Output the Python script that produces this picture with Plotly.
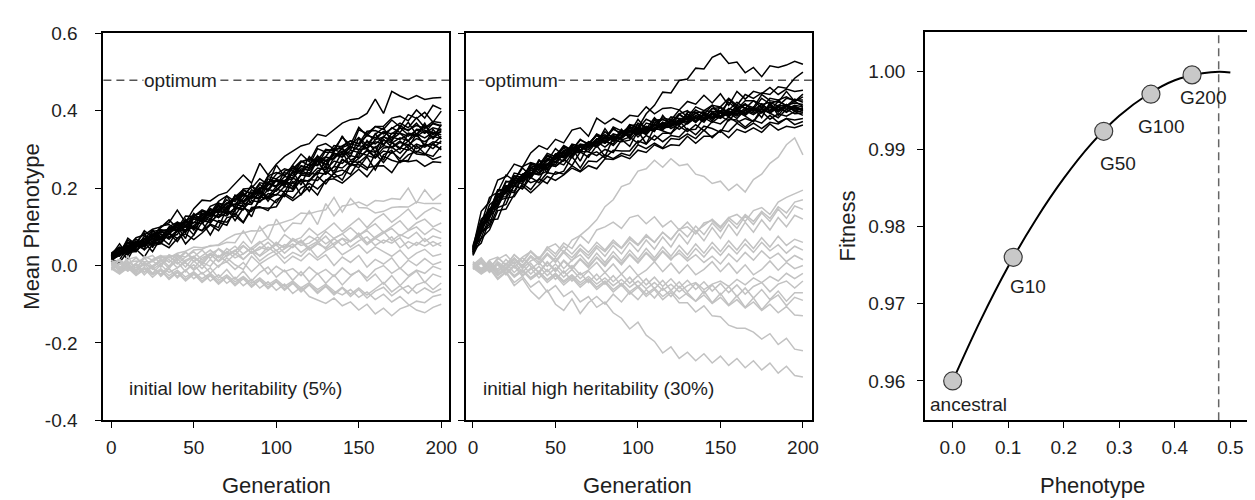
import plotly.graph_objects as go

# ---------------- data ----------------
GENERATIONS = list(range(0, 201, 5))

# Mean phenotype trajectories (values in thousandths)
LOW_SELECTED = [
    [30,44,49,72,79,94,100,111,143,111,147,169,167,182,189,211,234,213,264,234,262,282,295,309,315,339,334,350,368,377,380,393,430,393,450,438,429,439,429,433,434],
    [18,28,71,54,90,72,98,118,96,128,127,144,135,166,180,165,198,200,224,209,260,230,260,288,268,308,315,301,331,312,357,335,359,360,381,386,374,402,381,414,404],
    [28,44,42,44,76,72,102,106,90,114,131,120,153,162,148,181,180,204,194,232,240,234,250,270,258,302,293,293,335,298,351,341,359,352,376,358,390,380,396,370,399],
    [12,30,60,56,52,90,68,92,108,90,131,134,127,146,170,152,194,186,192,230,224,240,232,268,276,270,281,310,307,322,315,347,349,340,354,368,356,382,356,372,369],
    [24,46,38,62,62,80,66,100,112,84,125,116,147,138,180,146,174,208,176,224,218,212,258,240,282,260,297,300,291,310,331,311,339,356,320,362,348,368,342,368,361],
    [20,28,58,48,70,62,90,94,90,120,97,134,133,156,138,180,184,172,198,212,202,244,252,240,262,282,271,276,305,314,309,339,325,332,356,344,370,338,368,327,365],
    [32,48,44,68,54,82,88,80,106,104,95,140,135,144,134,182,166,180,210,192,220,220,224,258,252,282,251,300,303,282,329,301,325,346,330,356,338,336,362,338,354],
    [15,26,60,36,68,92,72,96,90,100,135,116,137,124,154,158,162,196,184,216,220,204,242,246,234,284,259,290,281,308,299,303,341,310,342,342,322,352,350,328,349],
    [26,56,26,60,84,46,92,86,110,90,125,126,115,158,136,180,162,180,174,208,220,208,244,208,254,270,239,280,303,272,283,323,293,334,318,300,342,338,310,352,327],
    [10,14,52,60,52,72,60,86,100,70,125,114,137,124,138,140,188,160,192,178,204,218,204,234,234,272,237,256,293,256,299,303,279,326,306,322,304,340,310,314,334],
    [22,46,34,36,60,58,82,68,88,102,79,130,121,146,132,148,144,184,190,174,196,216,196,238,240,234,273,236,273,260,291,285,307,272,318,304,322,302,314,302,322],
    [30,34,66,52,42,88,92,74,80,118,91,122,109,136,144,130,160,158,196,166,198,190,226,216,220,244,255,244,275,260,277,297,279,304,306,290,312,292,312,312,301],
    [8,40,16,56,60,52,56,84,70,90,99,90,121,112,104,146,154,126,178,172,184,178,218,182,222,220,243,228,235,262,253,281,247,286,298,268,272,310,289,282,308],
    [18,28,44,62,40,60,60,82,62,92,101,90,107,98,148,116,148,140,168,176,162,192,192,222,192,230,211,240,247,236,269,253,257,282,272,266,286,295,288,274,282],
    [26,34,28,52,60,36,72,54,92,56,79,112,79,116,112,136,112,150,152,142,170,182,168,184,204,182,221,224,213,230,249,229,257,258,240,272,268,272,256,268,266],
    [5,8,36,42,22,56,58,46,70,82,67,84,105,90,124,128,110,146,150,148,152,186,174,200,212,198,219,238,221,260,261,247,289,266,294,276,302,288,286,316,299],
    [20,40,36,58,70,66,92,88,112,104,128,140,132,160,158,176,196,184,214,210,236,250,244,268,274,272,300,296,310,322,314,336,330,346,340,356,350,362,354,366,360],
    [26,30,50,46,66,80,74,96,104,100,124,120,142,136,160,172,166,190,186,210,206,230,226,250,246,270,262,286,280,298,292,312,304,324,316,330,322,340,330,344,338],
    [14,36,32,54,48,70,66,86,94,90,112,108,130,126,148,158,154,176,172,196,192,216,212,234,230,252,248,270,264,284,278,298,292,310,304,318,312,328,320,334,328],
    [30,24,48,60,56,78,86,82,106,114,110,134,130,152,148,172,182,178,200,196,222,218,240,256,252,276,270,290,286,306,300,320,314,332,326,342,334,350,342,356,350],
    [18,32,40,38,58,54,76,72,92,88,104,116,112,132,128,150,146,168,164,186,182,204,200,222,218,240,236,256,252,270,266,284,278,296,290,304,298,314,306,320,316],
    [24,44,40,62,58,76,72,98,94,110,120,116,146,140,162,158,182,178,202,198,220,216,242,238,262,258,280,276,296,290,310,304,320,314,332,326,340,334,348,340,345],
]

LOW_CONTROL = [
    [0,-10,8,12,10,10,24,24,25,22,40,42,52,52,60,59,90,58,101,70,120,88,110,108,141,106,160,128,154,157,164,154,168,166,173,171,200,162,196,169,185],
    [8,-16,25,-14,24,14,20,20,32,37,48,46,50,54,69,80,84,90,89,104,106,113,120,136,134,140,144,176,138,173,150,149,136,140,150,152,151,164,160,160,160],
    [-6,14,2,20,-2,16,26,8,30,10,22,40,18,44,30,36,62,40,58,70,52,80,64,72,96,78,92,110,88,104,122,98,120,134,112,128,146,120,138,150,140],
    [10,-6,16,22,0,12,-4,28,18,36,10,24,40,22,34,50,30,46,62,40,56,48,70,58,76,64,88,70,82,98,78,94,108,86,100,116,92,110,120,100,110],
    [-12,4,10,-6,18,26,4,22,12,34,18,8,30,42,24,38,52,32,48,40,60,44,66,52,58,74,56,70,82,62,78,90,70,84,96,76,90,100,80,96,85],
    [14,-2,-14,6,20,-4,10,26,4,22,36,14,32,20,44,28,50,34,42,60,38,54,46,66,44,58,76,52,70,62,84,58,74,88,64,80,70,86,62,76,70],
    [-4,-18,0,-14,8,-10,4,16,-6,14,24,2,28,12,36,20,30,46,24,40,54,32,50,62,40,56,46,70,52,64,76,54,70,58,74,46,62,52,70,50,60],
    [6,16,-4,-12,8,-6,18,-2,24,6,-8,20,30,10,26,40,16,36,26,48,30,44,56,34,50,62,42,58,70,48,64,74,52,66,58,72,44,60,50,62,50],
    [0,12,-10,6,-18,0,14,-8,18,-4,22,8,-2,26,10,30,16,36,12,28,40,18,34,24,46,20,38,50,28,42,54,32,48,36,24,40,16,32,42,24,30],
    [-4,-18,2,-14,6,-8,-22,-2,10,-16,12,-8,16,-4,20,2,-10,24,4,18,30,6,24,12,32,14,28,0,22,8,26,-4,16,4,20,-8,14,0,18,2,10],
    [8,-8,6,-14,4,-20,2,-18,-6,8,-12,4,-20,0,10,-10,8,-16,4,-22,-2,-16,-8,-26,-4,-22,-10,-28,-6,-24,-14,-32,-10,0,-20,-6,-26,-12,-20,-2,-10],
    [-10,6,-14,2,-24,-2,-28,-8,-32,-12,2,-22,-6,-32,-10,-36,-14,-40,-18,-4,-30,-12,-38,-16,-42,-20,-46,-24,-50,-28,-12,-40,-22,-48,-26,-52,-30,-14,-44,-22,-30],
    [4,-12,-2,-22,-8,-24,-12,-32,-16,-36,-18,-40,-24,-44,-28,-48,-30,-52,-36,-56,-40,-60,-44,-64,-48,-68,-52,-72,-56,-74,-58,-76,-60,-44,-68,-52,-72,-50,-42,-62,-45],
    [-6,-20,-4,-24,-8,-30,-12,-36,-18,-40,-22,-44,-26,-48,-30,-52,-34,-56,-38,-60,-42,-64,-46,-68,-50,-72,-54,-76,-58,-80,-62,-84,-66,-56,-78,-62,-52,-72,-58,-70,-60],
    [-8,-22,-6,-26,-10,-4,-24,-8,-28,-12,-34,-18,-40,-24,-46,-30,-52,-36,-58,-42,-64,-48,-72,-56,-80,-88,-98,-84,-104,-94,-115,-100,-125,-110,-130,-112,-104,-92,-96,-80,-75],
    [4,-12,0,-18,-4,-22,-8,-26,-12,-30,-16,-34,-20,-38,-24,-42,-28,-46,-32,-50,-36,-54,-40,-58,-44,-62,-48,-66,-76,-62,-82,-68,-88,-74,-94,-80,-100,-115,-122,-108,-100],
]

HIGH_SELECTED = [
    [45,140,164,221,230,262,254,291,310,300,326,317,350,356,334,381,366,380,369,388,385,410,392,406,408,402,424,417,440,420,444,414,450,430,450,444,460,442,456,450,453],
    [38,106,176,190,234,220,256,266,259,290,282,310,298,324,315,336,320,358,348,342,378,352,382,360,384,380,380,402,390,414,384,430,408,416,408,442,426,422,450,424,443],
    [52,120,140,196,194,239,234,254,246,276,268,294,308,292,318,316,346,328,342,360,340,368,362,378,366,392,400,380,400,398,398,422,404,426,426,408,432,428,436,424,436],
    [30,114,146,162,216,220,252,232,270,270,302,284,314,308,318,316,354,324,332,362,364,342,376,377,370,392,376,394,380,406,399,402,422,406,426,416,422,412,432,428,428],
    [48,96,157,174,218,212,220,264,254,248,286,304,286,312,306,326,338,322,352,328,368,354,346,388,362,366,396,396,380,406,408,390,414,406,404,432,418,426,412,430,422],
    [35,96,122,185,190,226,224,234,274,238,281,280,312,298,314,338,316,332,330,364,354,340,376,356,358,390,376,396,396,382,410,394,404,418,400,418,400,424,414,420,416],
    [42,90,146,160,206,204,234,252,240,258,288,292,278,308,294,320,320,314,346,350,338,352,352,352,378,366,392,374,384,384,382,406,398,416,400,416,400,414,412,424,411],
    [28,96,124,176,178,218,230,226,256,250,278,270,296,296,316,306,324,310,332,356,332,352,350,370,354,366,384,370,390,374,396,392,410,388,406,396,416,402,416,406,406],
    [50,86,140,154,198,192,232,240,236,262,256,272,304,270,312,320,306,324,320,324,350,338,362,352,366,352,368,384,370,398,384,396,380,402,408,382,422,388,414,408,400],
    [36,88,106,168,174,206,198,240,234,244,268,260,288,294,280,310,282,328,326,308,348,314,356,348,340,374,350,352,382,370,386,374,398,386,372,406,394,382,404,392,394],
    [44,72,126,152,194,188,228,214,222,262,256,274,258,294,294,284,300,292,324,332,316,336,324,342,342,360,346,364,348,372,366,384,370,380,372,398,378,392,386,398,388],
    [32,86,100,150,158,208,198,228,214,240,236,244,282,252,286,294,278,298,296,296,322,314,336,320,336,332,354,338,360,354,344,378,376,358,376,368,388,370,380,376,380],
    [40,58,118,120,174,178,212,196,224,212,242,236,258,244,270,268,286,276,290,284,312,302,316,304,328,326,340,328,350,330,350,346,368,354,368,354,370,366,380,364,372],
    [26,70,92,142,146,184,206,188,208,230,220,234,252,242,258,250,276,274,284,276,298,292,312,302,312,310,334,316,334,334,348,330,352,344,356,344,366,350,360,356,363],
    [40,108,128,192,196,232,226,262,256,282,276,308,298,326,312,340,330,356,336,364,356,392,414,448,446,478,482,510,508,538,548,522,526,498,512,488,516,512,518,528,520],
    [46,114,138,194,198,232,228,258,252,286,276,306,298,314,310,338,326,352,342,358,352,378,368,382,376,402,384,410,400,414,410,432,414,442,432,446,442,462,458,484,500],
    [36,104,128,182,190,226,222,250,248,276,274,298,292,312,306,328,320,340,334,350,344,360,354,370,364,378,372,388,380,394,386,400,392,406,398,410,400,412,404,414,410],
    [44,88,144,162,206,208,236,234,262,260,288,282,304,298,320,314,334,326,346,338,356,348,366,358,374,366,384,374,390,382,398,388,402,394,408,398,410,400,412,402,406],
    [40,100,130,174,192,220,216,246,240,272,266,294,288,310,304,326,318,336,330,348,340,358,350,368,360,376,370,384,376,392,382,398,390,402,394,406,396,410,398,412,402],
    [34,84,140,158,200,204,232,226,258,252,284,278,300,296,316,310,330,324,342,336,352,346,362,356,372,366,380,374,388,380,394,386,400,392,404,396,408,398,410,400,396],
    [48,108,126,178,186,216,212,240,236,264,260,290,284,306,300,322,316,334,328,346,338,356,350,364,358,374,366,382,374,390,380,396,386,400,390,404,394,408,396,410,400],
    [42,92,146,160,204,206,236,230,262,258,288,280,306,294,318,310,334,322,348,332,358,342,366,350,376,362,386,370,394,378,400,384,404,390,410,394,414,396,416,398,408],
]

HIGH_CONTROL = [
    [0,16,-8,20,2,28,8,36,14,48,30,58,44,78,96,118,152,170,204,212,244,250,272,254,276,258,262,236,230,212,218,194,210,190,222,236,264,280,312,330,286],
    [-4,12,-14,10,-6,20,0,26,8,32,12,38,20,44,26,52,36,60,44,68,52,76,60,86,68,94,100,82,110,116,96,124,132,114,142,150,132,164,176,186,195],
    [6,-12,14,22,0,28,10,38,18,46,56,34,66,78,58,92,100,112,96,124,130,108,126,100,116,92,112,88,104,120,100,124,106,132,114,140,122,152,136,164,170],
    [2,20,-6,16,28,4,22,36,16,42,22,50,30,54,34,60,40,66,46,74,54,80,60,86,66,94,74,102,80,110,88,118,96,128,106,136,114,146,122,154,145],
    [-8,8,-16,6,-10,16,-4,22,2,28,8,34,12,40,18,46,24,52,30,60,36,66,42,74,48,82,56,90,64,98,70,106,78,112,86,118,92,124,100,130,120],
    [8,-10,8,-16,4,18,-8,12,22,-2,20,-8,14,28,4,32,8,36,12,40,16,44,20,48,24,52,28,56,32,60,36,64,40,68,44,72,48,76,52,68,60],
    [-2,-20,0,-26,-12,10,-18,6,-20,8,-16,12,-10,16,-6,20,-2,24,2,28,6,32,10,36,14,40,18,44,22,48,26,52,30,56,34,60,38,54,32,50,40],
    [4,-14,12,-10,16,-6,20,-2,-16,10,-12,14,-6,18,-2,22,2,26,6,30,10,34,14,38,18,32,12,28,8,24,4,30,10,34,14,38,18,32,10,26,15],
    [-6,10,-14,6,-20,2,-24,-10,8,-16,4,-20,0,-24,-12,8,-18,4,-22,0,-26,-12,10,-16,6,-20,2,-24,-10,10,-16,6,-20,2,-24,-10,12,-12,8,-8,0],
    [0,-18,6,-24,-8,-28,-12,-32,-16,-36,-20,-40,-24,-44,-28,-48,-32,-52,-36,-56,-40,-60,-44,-64,-48,-68,-52,-44,-62,-48,-40,-54,-36,-50,-32,-44,-28,-40,-20,-34,-20],
    [10,-8,10,-14,6,-18,2,-22,-2,-26,-6,-30,-10,-34,-14,-38,-18,-42,-22,-46,-26,-50,-30,-54,-34,-58,-38,-62,-42,-66,-46,-70,-50,-74,-54,-44,-68,-48,-40,-58,-40],
    [-10,6,-18,2,-24,-2,-28,-6,-32,-10,-36,-14,-40,-18,-44,-22,-48,-26,-52,-30,-56,-34,-60,-38,-64,-42,-68,-46,-72,-50,-76,-54,-80,-58,-84,-62,-88,-66,-92,-70,-70],
    [-6,-22,-8,-36,-18,-52,-34,-66,-86,-64,-100,-116,-86,-124,-96,-80,-100,-74,-94,-68,-88,-62,-84,-58,-80,-54,-76,-92,-66,-96,-72,-102,-78,-108,-84,-114,-90,-76,-104,-82,-90],
    [4,-14,2,-20,-4,-26,-10,-32,-16,-38,-22,-44,-28,-50,-34,-56,-40,-62,-46,-68,-52,-74,-58,-80,-64,-86,-70,-92,-76,-98,-82,-104,-88,-110,-94,-116,-100,-122,-106,-128,-130],
    [2,-18,-2,-24,-8,-30,-14,-36,-20,-44,-26,-50,-32,-56,-38,-62,-44,-68,-50,-74,-56,-80,-62,-88,-70,-96,-96,-120,-104,-130,-132,-154,-162,-162,-172,-190,-176,-204,-188,-216,-220],
    [-2,-20,-4,-32,-16,-44,-28,-56,-40,-68,-52,-80,-66,-94,-80,-108,-94,-122,-136,-164,-146,-180,-196,-226,-210,-240,-224,-246,-228,-252,-234,-258,-240,-264,-246,-270,-252,-278,-260,-284,-288],
]

OPTIMUM = 0.479

# Fitness landscape (right panel)
CURVE_PHENOTYPE = [0.0, 0.05, 0.10, 0.15, 0.20, 0.25, 0.30, 0.35, 0.40, 0.45, 0.48, 0.50]
CURVE_FITNESS = [0.9600, 0.9678, 0.9748, 0.9809, 0.9862, 0.9907, 0.9943, 0.9970, 0.9989, 0.9998, 1.0000, 0.9999]
POINT_LABELS = ["ancestral", "G10", "G50", "G100", "G200"]
POINT_PHENOTYPE = [0.0, 0.109, 0.272, 0.357, 0.431]
POINT_FITNESS = [0.9600, 0.9760, 0.9923, 0.9971, 0.9996]

Y_TICKS = [-0.4, -0.2, 0.0, 0.2, 0.4, 0.6]
Y_TICK_TEXT = ["-0.4", "-0.2", "0.0", "0.2", "0.4", "0.6"]
X_TICKS = [0, 50, 100, 150, 200]
FIT_TICKS = [0.96, 0.97, 0.98, 0.99, 1.00]
FIT_TICK_TEXT = ["0.96", "0.97", "0.98", "0.99", "1.00"]
PHEN_TICKS = [0.0, 0.1, 0.2, 0.3, 0.4, 0.5]
PHEN_TICK_TEXT = ["0.0", "0.1", "0.2", "0.3", "0.4", "0.5"]

# ---------------- figure ----------------
W, H = 1255, 500
FONT = "Liberation Sans, Arial, Helvetica, sans-serif"
TXT = "#1e1e1e"


def px(x):
    return x / W


def py(y):
    return 1 - y / H


def bundle(lines):
    xs, ys = [], []
    for ln in lines:
        xs += GENERATIONS + [None]
        ys += [v / 1000 for v in ln] + [None]
    return xs, ys


fig = go.Figure()

for lines_sel, lines_ctrl, xa, ya in [
    (LOW_SELECTED, LOW_CONTROL, "x", "y"),
    (HIGH_SELECTED, HIGH_CONTROL, "x2", "y2"),
]:
    bx, by = bundle(lines_sel)
    fig.add_trace(go.Scatter(x=bx, y=by, mode="lines", xaxis=xa, yaxis=ya,
                             line=dict(color="#000000", width=1.5), hoverinfo="skip",
                             showlegend=False))
    gx, gy = bundle(lines_ctrl)
    fig.add_trace(go.Scatter(x=gx, y=gy, mode="lines", xaxis=xa, yaxis=ya,
                             line=dict(color="#c2c2c2", width=1.5), hoverinfo="skip",
                             showlegend=False))

fig.add_trace(go.Scatter(x=CURVE_PHENOTYPE, y=CURVE_FITNESS, mode="lines", xaxis="x3", yaxis="y3",
                         line=dict(color="#000000", width=2, shape="spline"), showlegend=False))
fig.add_trace(go.Scatter(x=POINT_PHENOTYPE, y=POINT_FITNESS, mode="markers", xaxis="x3", yaxis="y3",
                         marker=dict(size=18, color="#c8c8c8", line=dict(color="#3a3a3a", width=1.2)),
                         showlegend=False))

axis_common = dict(showgrid=False, zeroline=False, showline=True, linecolor="#000000", linewidth=2,
                   ticks="outside", ticklen=6, tickwidth=1.3, tickcolor="#000000",
                   tickfont=dict(family=FONT, size=19, color=TXT))

fig.update_layout(
    width=W, height=H,
    margin=dict(l=0, r=0, t=0, b=0),
    paper_bgcolor="white", plot_bgcolor="white",
    xaxis=dict(domain=[px(96), px(444)], range=[-4.8, 204.8], tickvals=X_TICKS,
               anchor="y", mirror=True, ticklabelstandoff=3, **axis_common),
    yaxis=dict(domain=[py(420), py(16)], range=[-0.4, 0.6], tickvals=Y_TICKS, ticktext=Y_TICK_TEXT,
               anchor="x", mirror=True, ticklabelstandoff=14, **axis_common),
    xaxis2=dict(domain=[px(461), px(809)], range=[-4.2, 205.4], tickvals=X_TICKS,
                anchor="y2", mirror=True, ticklabelstandoff=3, **axis_common),
    yaxis2=dict(domain=[py(420), py(16)], range=[-0.4, 0.6], tickvals=Y_TICKS, showticklabels=False,
                anchor="x2", mirror=True, **axis_common),
    xaxis3=dict(domain=[px(923), 1.0], range=[-0.0496, 0.5444], tickvals=PHEN_TICKS, ticktext=PHEN_TICK_TEXT,
                anchor="y3", mirror=True, ticklabelstandoff=3, **axis_common),
    yaxis3=dict(domain=[py(420), py(15)], range=[0.9549, 1.0051], tickvals=FIT_TICKS, ticktext=FIT_TICK_TEXT,
                anchor="x3", mirror=False, ticklabelstandoff=8, **axis_common),
)

# optimum lines
for xr, yr in [("x domain", "y"), ("x2 domain", "y2")]:
    fig.add_shape(type="line", xref=xr, yref=yr, x0=0, x1=1, y0=OPTIMUM, y1=OPTIMUM,
                  line=dict(color="#555555", width=1.5, dash="8px,5px"), layer="below")
fig.add_shape(type="line", xref="x3", yref="y3 domain", x0=OPTIMUM, x1=OPTIMUM, y0=0, y1=1,
              line=dict(color="#666666", width=1.5, dash="8px,5px"), layer="below")

ann = []
tf = dict(family=FONT, size=19, color=TXT)
ttl = dict(family=FONT, size=22, color=TXT)
# optimum labels
ann.append(dict(x=41.8, y=OPTIMUM, xref="x", yref="y", text="optimum", showarrow=False,
                bgcolor="white", borderpad=0, xanchor="center", yanchor="middle", font=tf))
ann.append(dict(x=29.5, y=OPTIMUM, xref="x2", yref="y2", text="optimum", showarrow=False,
                bgcolor="white", borderpad=0, xanchor="center", yanchor="middle", font=tf))
# heritability labels
ann.append(dict(x=75.5, y=-0.318, xref="x", yref="y", text="initial low heritability (5%)",
                showarrow=False, xanchor="center", yanchor="middle", font=tf))
ann.append(dict(x=76.0, y=-0.318, xref="x2", yref="y2", text="initial high heritability (30%)",
                showarrow=False, xanchor="center", yanchor="middle", font=tf))
# point labels
label_pos = [(0.0286, 0.95691), (0.1365, 0.97222), (0.2975, 0.98815), (0.3744, 0.99296), (0.4513, 0.99667)]
for lab, (lx, ly) in zip(POINT_LABELS, label_pos):
    ann.append(dict(x=lx, y=ly, xref="x3", yref="y3", text=lab, showarrow=False,
                    xanchor="center", yanchor="middle", font=tf))
# axis titles
for text, x, y, ang in [("Mean Phenotype", 24, 218, -90), ("Generation", 270, 488, 0),
                        ("Generation", 634, 488, 0), ("Fitness", 845, 217, -90),
                        ("Phenotype", 1091, 488, 0)]:
    ann.append(dict(x=px(x), y=py(y), xref="paper", yref="paper", text=text, textangle=ang,
                    showarrow=False, xanchor="center", yanchor="middle", font=ttl))
fig.update_layout(annotations=ann)

fig.write_html("out.html")
